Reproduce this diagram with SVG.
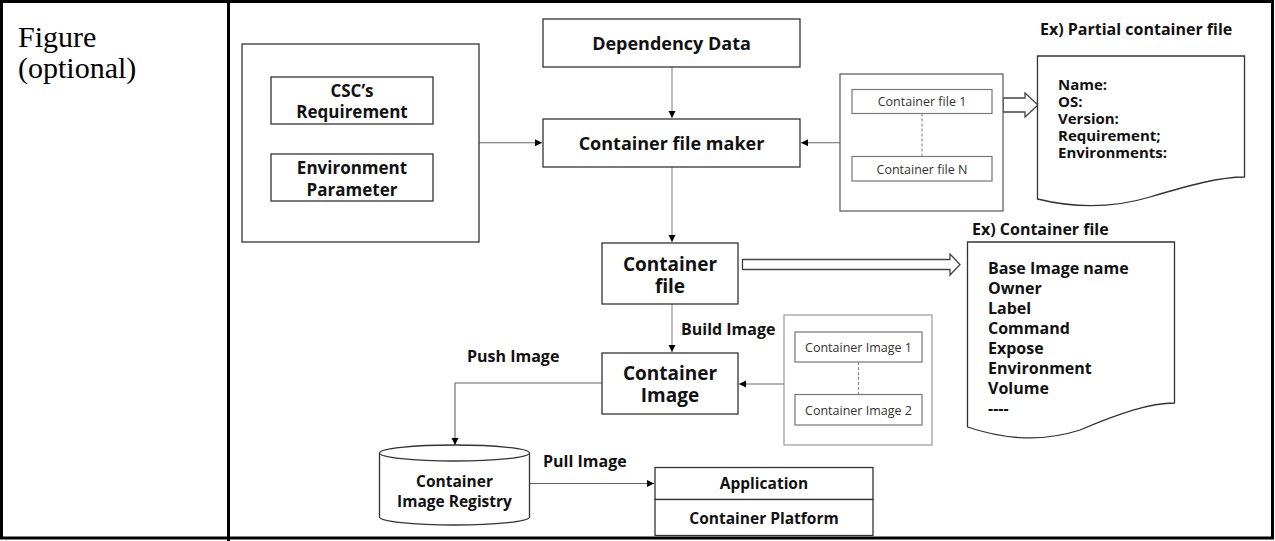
<svg xmlns="http://www.w3.org/2000/svg" width="1275" height="541" viewBox="0 0 1275 541">
  <style>
    .frame { fill: none; stroke: #000; stroke-width: 3; }
    .box { fill: #fff; stroke: #333; stroke-width: 1.3; }
    .sub { fill: #fff; stroke: #777; stroke-width: 1.2; }
    .grp { fill: #fff; stroke: #555; stroke-width: 1.2; }
    .grp2 { fill: #fff; stroke: #999; stroke-width: 1.2; }
    .b { font-family: "Open Sans", "Noto Sans", sans-serif; font-weight: bold; fill: #111; }
    .r { font-family: "Open Sans", "Noto Sans", sans-serif; font-weight: normal; fill: #333; font-size: 12.5px; }
    .c { text-anchor: middle; }
    .serif { font-family: "Liberation Serif", "Times New Roman", serif; font-size: 30px; fill: #000; }
    .link { fill: none; stroke: #666; stroke-width: 1.1; }
    .flow { fill: none; stroke: #b0b0b0; stroke-width: 1.6; }
    .dash { fill: none; stroke: #888; stroke-width: 1.1; stroke-dasharray: 3 2; }
    .fat { fill: #fff; stroke: #444; stroke-width: 1.3; stroke-linejoin: miter; }
  </style>
  <defs>
    <marker id="ah" markerUnits="userSpaceOnUse" markerWidth="8" markerHeight="8" refX="7" refY="3.5" orient="auto">
      <path d="M0,0 L7,3.5 L0,7 z" fill="#000"/>
    </marker>
  </defs>

  <rect width="1275" height="541" fill="#fff"/>

  <!-- table frame -->
  <g id="table">
    <rect class="frame" x="1.5" y="1.5" width="1271" height="536.5"/>
    <line class="frame" x1="228.5" y1="0" x2="228.5" y2="541"/>
    <text class="serif" x="18" y="47">Figure</text>
    <text class="serif" x="18" y="78">(optional)</text>
  </g>

  <!-- connectors -->
  <g id="connectors">
    <path class="link" d="M479,142.7 H542" marker-end="url(#ah)"/>
    <path class="flow" d="M672,67 V118" marker-end="url(#ah)"/>
    <path class="link" d="M840,142.7 H801" marker-end="url(#ah)"/>
    <path class="flow" d="M672,167 V242" marker-end="url(#ah)"/>
    <path class="flow" d="M672,304 V352" marker-end="url(#ah)"/>
    <path class="link" d="M784,384 H739" marker-end="url(#ah)"/>
    <path class="link" d="M602,383 H455 V445" marker-end="url(#ah)"/>
    <path class="link" d="M529,483.5 H654" marker-end="url(#ah)"/>
    <!-- hollow block arrows -->
    <path class="fat" d="M1003,98 H1025 V93 L1038,105 L1025,117 V112 H1003 Z"/>
    <path class="fat" d="M742.5,259.5 H950 V254 L960,264.5 L950,275 V269.5 H742.5 Z"/>
  </g>

  <g id="input-params">
    <rect class="box" x="242" y="44" width="237" height="198"/>
    <rect class="box" x="271" y="77" width="162" height="47"/>
    <text class="b c" x="352" y="96.5" font-size="17">CSC’s</text>
    <text class="b c" x="352" y="117.5" font-size="17">Requirement</text>
    <rect class="box" x="271" y="154" width="162" height="47"/>
    <text class="b c" x="352" y="173.5" font-size="17">Environment</text>
    <text class="b c" x="352" y="195.5" font-size="17">Parameter</text>
  </g>

  <g id="dependency-data">
    <rect class="box" x="543" y="19" width="257" height="48"/>
    <text class="b c" x="671.5" y="49.5" font-size="18">Dependency Data</text>
  </g>

  <g id="container-file-maker">
    <rect class="box" x="543" y="119" width="257" height="48"/>
    <text class="b c" x="671.5" y="150" font-size="18">Container file maker</text>
  </g>

  <g id="container-file-list">
    <rect class="grp" x="840" y="74" width="163" height="137"/>
    <rect class="sub" x="852" y="89.5" width="140" height="24"/>
    <text class="r c" x="922" y="106">Container file 1</text>
    <line class="dash" x1="922" y1="113.5" x2="922" y2="156.5"/>
    <rect class="sub" x="852" y="156.5" width="140" height="24.5"/>
    <text class="r c" x="922" y="173.5">Container file N</text>
  </g>

  <g id="partial-container-file">
    <text class="b" x="1040" y="35" font-size="16">Ex) Partial container file</text>
    <path class="box" d="M1037.5,56 H1244.5 V177 C1220,177 1190,185 1150,197 C1110,209 1070,207 1037.5,199 Z"/>
    <text class="b" font-size="15">
      <tspan x="1058" y="90">Name:</tspan>
      <tspan x="1058" y="107">OS:</tspan>
      <tspan x="1058" y="124">Version:</tspan>
      <tspan x="1058" y="141">Requirement;</tspan>
      <tspan x="1058" y="158">Environments:</tspan>
    </text>
  </g>

  <g id="container-file">
    <rect class="box" x="602" y="243" width="136" height="61"/>
    <text class="b c" x="670" y="271" font-size="19">Container</text>
    <text class="b c" x="670" y="293" font-size="19">file</text>
  </g>

  <g id="container-file-example">
    <text class="b" x="972" y="235" font-size="16">Ex) Container file</text>
    <path class="box" d="M967.5,242 H1174.5 V403 C1150,403 1120,413 1080,430 C1040,443 1000,438 967.5,427 Z"/>
    <text class="b" font-size="16">
      <tspan x="988" y="274">Base Image name</tspan>
      <tspan x="988" y="294">Owner</tspan>
      <tspan x="988" y="314">Label</tspan>
      <tspan x="988" y="334">Command</tspan>
      <tspan x="988" y="354">Expose</tspan>
      <tspan x="988" y="374">Environment</tspan>
      <tspan x="988" y="394">Volume</tspan>
      <tspan x="988" y="414">----</tspan>
    </text>
  </g>

  <g id="container-image">
    <rect class="box" x="602" y="353" width="136" height="61"/>
    <text class="b c" x="670" y="380" font-size="19">Container</text>
    <text class="b c" x="670" y="402" font-size="19">Image</text>
  </g>

  <g id="container-image-list">
    <rect class="grp2" x="784" y="315" width="148" height="130"/>
    <rect class="sub" x="795" y="332" width="127" height="30"/>
    <text class="r c" x="858.5" y="351.5">Container Image 1</text>
    <line class="dash" x1="858.5" y1="362" x2="858.5" y2="394.5"/>
    <rect class="sub" x="795" y="394.5" width="127" height="30.5"/>
    <text class="r c" x="858.5" y="414.5">Container Image 2</text>
  </g>

  <g id="labels">
    <text class="b" x="681" y="335" font-size="16">Build Image</text>
    <text class="b" x="467" y="362" font-size="16">Push Image</text>
    <text class="b" x="543" y="467" font-size="16">Pull Image</text>
  </g>

  <g id="image-registry">
    <path class="box" d="M379.5,453 V517 A75,8 0 0 0 529.5,517 V453"/>
    <ellipse class="box" cx="454.5" cy="453" rx="75" ry="8"/>
    <text class="b c" x="454.5" y="487" font-size="15.5">Container</text>
    <text class="b c" x="454.5" y="507" font-size="15.5">Image Registry</text>
  </g>

  <g id="application-stack">
    <rect class="box" x="655" y="467.5" width="218" height="32"/>
    <rect class="box" x="655" y="499.5" width="218" height="36"/>
    <text class="b c" x="764" y="488.5" font-size="15.5">Application</text>
    <text class="b c" x="764" y="524" font-size="15.5">Container Platform</text>
  </g>
</svg>
